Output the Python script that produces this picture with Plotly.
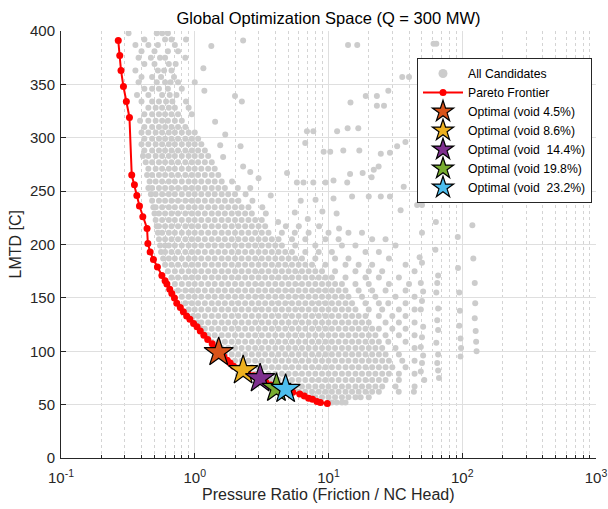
import plotly.graph_objects as go

# ---------------- data ----------------
# All candidates: main cloud, listed row by row (LMTD of the row, ratios in that row)
cand_row_lmtd = [398, 392, 387, 381, 375, 369, 363, 357, 352, 346, 340, 334, 328, 322, 316,
                 310, 305, 299, 294, 288, 283, 277, 271, 265, 259, 253, 247, 241, 235, 229,
                 223, 217, 211, 205, 199, 193, 187, 181, 175, 169, 163, 157, 151, 145, 139,
                 133, 127, 121, 115, 109, 103, 97, 91, 85, 79, 73, 67, 62, 57, 52]
cand_row_ratios = [
    [0.32, 0.52, 0.57, 0.63],
    [0.42, 0.60, 0.67, 0.86],
    [0.36, 0.45, 0.53, 0.71],
    [0.40, 0.50, 0.63, 0.75],
    [0.38, 0.47, 0.55, 0.60, 0.85],
    [0.42, 0.50, 0.64, 0.72],
    [0.36, 0.53, 0.59, 0.67],
    [0.40, 0.48, 0.56, 0.70],
    [0.38, 0.52, 0.60, 0.66, 0.75],
    [0.42, 0.48, 0.54, 0.63, 0.80],
    [0.37, 0.45, 0.57, 0.65, 0.73],
    [0.40, 0.48, 0.54, 0.61, 0.68, 0.86],
    [0.45, 0.51, 0.57, 0.64, 0.71, 0.90],
    [0.42, 0.48, 0.54, 0.60, 0.67, 0.75, 0.95],
    [0.39, 0.45, 0.51, 0.57, 0.63, 0.71, 0.80],
    [0.42, 0.48, 0.54, 0.60, 0.67, 0.75, 0.85],
    [0.40, 0.45, 0.51, 0.57, 0.64, 0.71, 0.80, 0.90, 1.0],
    [0.42, 0.48, 0.54, 0.60, 0.67, 0.75, 0.85, 0.95, 1.06],
    [0.40, 0.45, 0.51, 0.57, 0.64, 0.71, 0.80, 0.90, 1.0, 1.12],
    [0.42, 0.48, 0.54, 0.60, 0.67, 0.75, 0.85, 0.95, 1.06, 1.19],
    [0.41, 0.45, 0.51, 0.57, 0.64, 0.71, 0.80, 0.90, 1.0, 1.12, 1.26],
    [0.43, 0.48, 0.54, 0.60, 0.67, 0.75, 0.85, 0.95, 1.06, 1.19, 1.34],
    [0.45, 0.51, 0.57, 0.64, 0.71, 0.80, 0.90, 1.0, 1.12, 1.26, 1.41],
    [0.44, 0.48, 0.54, 0.60, 0.67, 0.75, 0.85, 0.95, 1.06, 1.19, 1.34, 1.5],
    [0.46, 0.51, 0.57, 0.64, 0.71, 0.80, 0.90, 1.0, 1.12, 1.26, 1.41, 1.59, 1.9],
    [0.45, 0.48, 0.54, 0.60, 0.67, 0.75, 0.85, 0.95, 1.06, 1.19, 1.34, 1.5, 1.68, 2.1, 2.6],
    [0.47, 0.51, 0.57, 0.64, 0.71, 0.80, 0.90, 1.0, 1.12, 1.26, 1.41, 1.59, 1.78, 2.0, 2.4],
    [0.48, 0.54, 0.60, 0.67, 0.75, 0.85, 0.95, 1.06, 1.19, 1.34, 1.5, 1.68, 1.89, 2.12, 2.7],
    [0.49, 0.51, 0.57, 0.64, 0.71, 0.80, 0.90, 1.0, 1.12, 1.26, 1.41, 1.59, 1.78, 2.0, 2.24, 2.52, 3.2],
    [0.50, 0.54, 0.60, 0.67, 0.75, 0.85, 0.95, 1.06, 1.19, 1.34, 1.5, 1.68, 1.89, 2.12, 2.38, 2.67, 3.4],
    [0.51, 0.57, 0.64, 0.71, 0.80, 0.90, 1.0, 1.12, 1.26, 1.41, 1.59, 1.78, 2.0, 2.24, 2.52, 2.83, 3.17],
    [0.52, 0.54, 0.60, 0.67, 0.75, 0.85, 0.95, 1.06, 1.19, 1.34, 1.5, 1.68, 1.89, 2.12, 2.38, 2.67, 3.0, 3.36, 4.8, 6.0],
    [0.53, 0.57, 0.64, 0.71, 0.80, 0.90, 1.0, 1.12, 1.26, 1.41, 1.59, 1.78, 2.0, 2.24, 2.52, 2.83, 3.17, 3.56, 4.48, 5.6, 7.1, 10.0, 14.1, 17.8],
    [0.54, 0.60, 0.67, 0.75, 0.85, 0.95, 1.06, 1.19, 1.34, 1.5, 1.68, 1.89, 2.12, 2.38, 2.67, 3.0, 3.36, 3.77, 4.23, 5.33, 6.71, 9.48, 11.9, 21.2, 26.7],
    [0.55, 0.60, 0.64, 0.71, 0.80, 0.90, 1.0, 1.12, 1.26, 1.41, 1.59, 1.78, 2.0, 2.24, 2.52, 2.83, 3.17, 3.56, 4.0, 4.48, 5.64, 7.97, 12.6, 15.9, 31.7],
    [0.56, 0.60, 0.67, 0.75, 0.85, 0.95, 1.06, 1.19, 1.34, 1.5, 1.68, 1.89, 2.12, 2.38, 2.67, 3.0, 3.36, 3.77, 4.23, 4.75, 5.33, 6.71, 8.45, 10.6, 18.9, 23.8],
    [0.58, 0.64, 0.71, 0.80, 0.90, 1.0, 1.12, 1.26, 1.41, 1.59, 1.78, 2.0, 2.24, 2.52, 2.83, 3.17, 3.56, 4.0, 4.48, 5.03, 5.64, 6.33, 7.97, 11.2, 14.1, 28.3],
    [0.60, 0.67, 0.75, 0.85, 0.95, 1.06, 1.19, 1.34, 1.5, 1.68, 1.89, 2.12, 2.38, 2.67, 3.0, 3.36, 3.77, 4.23, 4.75, 5.33, 5.98, 6.71, 7.53, 9.48, 13.4, 16.8, 21.2, 37.7],
    [0.63, 0.71, 0.80, 0.90, 1.0, 1.12, 1.26, 1.41, 1.59, 1.78, 2.0, 2.24, 2.52, 2.83, 3.17, 3.56, 4.0, 4.48, 5.03, 5.64, 6.33, 7.1, 7.97, 8.94, 11.2, 15.9, 20.0, 25.2, 44],
    [0.67, 0.75, 0.85, 0.95, 1.06, 1.19, 1.34, 1.5, 1.68, 1.89, 2.12, 2.38, 2.67, 3.0, 3.36, 3.77, 4.23, 4.75, 5.33, 5.98, 6.71, 7.53, 8.45, 9.48, 10.6, 13.4, 18.9, 23.8, 33.6],
    [0.71, 0.80, 0.90, 1.0, 1.12, 1.26, 1.41, 1.59, 1.78, 2.0, 2.24, 2.52, 2.83, 3.17, 3.56, 4.0, 4.48, 5.03, 5.64, 6.33, 7.1, 7.97, 8.94, 10.0, 11.2, 12.6, 15.9, 20.0, 28.3, 40],
    [0.75, 0.85, 0.95, 1.06, 1.19, 1.34, 1.5, 1.68, 1.89, 2.12, 2.38, 2.67, 3.0, 3.36, 3.77, 4.23, 4.75, 5.33, 5.98, 6.71, 7.53, 8.45, 9.48, 10.6, 11.9, 13.4, 16.8, 21.2, 26.7, 37.7],
    [0.80, 0.90, 1.0, 1.12, 1.26, 1.41, 1.59, 1.78, 2.0, 2.24, 2.52, 2.83, 3.17, 3.56, 4.0, 4.48, 5.03, 5.64, 6.33, 7.1, 7.97, 8.94, 10.0, 11.2, 12.6, 14.1, 17.8, 22.4, 31.7, 44],
    [0.85, 0.95, 1.06, 1.19, 1.34, 1.5, 1.68, 1.89, 2.12, 2.38, 2.67, 3.0, 3.36, 3.77, 4.23, 4.75, 5.33, 5.98, 6.71, 7.53, 8.45, 9.48, 10.6, 11.9, 13.4, 15.0, 18.9, 23.8, 28, 37.7],
    [0.9, 1.0, 1.12, 1.26, 1.41, 1.59, 1.78, 2.0, 2.24, 2.52, 2.83, 3.17, 3.56, 4.0, 4.48, 5.03, 5.64, 6.33, 7.1, 7.97, 8.94, 10.0, 11.2, 12.6, 14.1, 15.9, 20.0, 25.2, 33.6, 44],
    [0.97, 1.06, 1.19, 1.34, 1.5, 1.68, 1.89, 2.12, 2.38, 2.67, 3.0, 3.36, 3.77, 4.23, 4.75, 5.33, 5.98, 6.71, 7.53, 8.45, 9.48, 10.6, 11.9, 13.4, 15.0, 16.8, 18.9, 23.8, 30, 37.7],
    [1.05, 1.12, 1.26, 1.41, 1.59, 1.78, 2.0, 2.24, 2.52, 2.83, 3.17, 3.56, 4.0, 4.48, 5.03, 5.64, 6.33, 7.1, 7.97, 8.94, 10.0, 11.2, 12.6, 14.1, 15.9, 17.8, 20.0, 26.7, 33.6, 44],
    [1.12, 1.19, 1.34, 1.5, 1.68, 1.89, 2.12, 2.38, 2.67, 3.0, 3.36, 3.77, 4.23, 4.75, 5.33, 5.98, 6.71, 7.53, 8.45, 9.48, 10.6, 11.9, 13.4, 15.0, 16.8, 18.9, 21.2, 23.8, 30, 37.7],
    [1.22, 1.26, 1.41, 1.59, 1.78, 2.0, 2.24, 2.52, 2.83, 3.17, 3.56, 4.0, 4.48, 5.03, 5.64, 6.33, 7.1, 7.97, 8.94, 10.0, 11.2, 12.6, 14.1, 15.9, 17.8, 20.0, 22.4, 26.7, 33.6, 44],
    [1.34, 1.5, 1.68, 1.89, 2.12, 2.38, 2.67, 3.0, 3.36, 3.77, 4.23, 4.75, 5.33, 5.98, 6.71, 7.53, 8.45, 9.48, 10.6, 11.9, 13.4, 15.0, 16.8, 18.9, 21.2, 23.8, 28, 37.7],
    [1.5, 1.59, 1.78, 2.0, 2.24, 2.52, 2.83, 3.17, 3.56, 4.0, 4.48, 5.03, 5.64, 6.33, 7.1, 7.97, 8.94, 10.0, 11.2, 12.6, 14.1, 15.9, 17.8, 20.0, 22.4, 25.2, 31.7, 44],
    [1.68, 1.89, 2.12, 2.38, 2.67, 3.0, 3.36, 3.77, 4.23, 4.75, 5.33, 5.98, 6.71, 7.53, 8.45, 9.48, 10.6, 11.9, 13.4, 15.0, 16.8, 18.9, 21.2, 23.8, 26.7, 33.6],
    [2.0, 2.24, 2.52, 2.83, 3.17, 3.56, 4.0, 4.48, 5.03, 5.64, 6.33, 7.1, 7.97, 8.94, 10.0, 11.2, 12.6, 14.1, 15.9, 17.8, 20.0, 22.4, 25.2, 28.3, 35.6, 44],
    [2.2, 2.38, 2.67, 3.0, 3.36, 3.77, 4.23, 4.75, 5.33, 5.98, 6.71, 7.53, 8.45, 9.48, 10.6, 11.9, 13.4, 15.0, 16.8, 18.9, 21.2, 23.8, 26.7, 30, 37.7],
    [2.6, 2.83, 3.17, 3.56, 4.0, 4.48, 5.03, 5.64, 6.33, 7.1, 7.97, 8.94, 10.0, 11.2, 12.6, 14.1, 15.9, 17.8, 20.0, 22.4, 25.2, 28.3, 33.6, 44],
    [3.4, 3.77, 4.23, 4.75, 5.33, 5.98, 6.71, 7.53, 8.45, 9.48, 10.6, 11.9, 13.4, 15.0, 16.8, 18.9, 21.2, 23.8, 26.7, 33.6],
    [4.3, 4.48, 5.03, 5.64, 6.33, 7.1, 7.97, 8.94, 10.0, 11.2, 12.6, 14.1, 15.9, 17.8, 20.0, 22.4, 25.2, 31.7, 44],
    [5.6, 5.98, 6.71, 7.53, 8.45, 9.48, 10.6, 11.9, 13.4, 15.0, 16.8, 18.9, 21.2, 23.8, 33.5, 43.5],
    [7.5, 7.97, 8.94, 10.0, 11.2, 12.6, 14.1, 15.9, 17.4, 20.0],
    [10.6, 11.5, 12.6, 13.4],
]

# All candidates: scattered outliers (ratio, LMTD)
outlier_ratio = [2.3, 1.33, 14, 16.4, 61, 64, 1.16, 35.6, 40, 1.0, 1.18, 28, 2.0, 19, 23, 2.25, 14.6,
                 23, 26, 1.42, 13.9, 16.7, 11.6, 6.9, 7.7, 1.69, 6.7, 37.6, 32.6, 1.55, 2.2, 9.2, 10.3,
                 12.9, 17, 24.6, 28.8, 1.63, 2.3, 23.7, 18, 21.8, 2.6, 14.5, 21, 3.0, 4.9, 5.8, 6.5,
                 7.7, 9.5, 10.9, 13.8, 36.5, 3.7, 15, 20, 24.6, 28.8, 61.5, 6.2, 8.0, 10.9, 46, 50,
                 34.6, 5.6, 9.0, 11.5, 63.5, 119, 7.0, 4.2, 8.5, 12,
                 50, 48, 50, 49, 51, 50, 49, 51, 50, 49, 51, 50, 49, 52,
                 63, 66, 65, 64, 66, 65, 66, 64, 66, 65, 66, 67,
                 92.6, 93, 95, 96, 95, 97, 98, 97,
                 121, 124, 125, 124, 126, 127, 128]
outlier_lmtd = [391, 386, 387, 387, 388, 388, 365, 357, 357, 352, 344, 344, 339, 339, 339, 334, 333,
                330, 330, 315, 309, 309, 306, 306, 306, 303, 295, 296, 292, 293, 292, 287, 287,
                288, 288, 285, 286, 282, 273, 273, 267, 270, 268, 266, 263, 262, 267, 258, 258,
                258, 258, 260, 258, 254, 246, 245, 245, 245, 245, 245, 241, 242, 243, 237, 237,
                232, 230, 231, 229, 221, 218, 224, 221, 217, 215,
                211, 188, 183, 164, 156, 147, 139, 123, 113, 104, 96, 89, 81, 73,
                195, 171, 164, 155, 140, 129, 120, 108, 97, 89, 82, 75,
                207, 178, 155, 138, 124, 112, 103, 95,
                187, 164, 145, 131, 119, 109, 100]

# Pareto frontier
pareto_ratio = [0.268, 0.275, 0.281, 0.293, 0.308, 0.325, 0.338, 0.354, 0.369, 0.386, 0.409, 0.440,
                0.446, 0.464, 0.491, 0.526, 0.568, 0.600, 0.619, 0.650, 0.674, 0.705, 0.734, 0.78,
                0.822, 0.87, 0.92, 0.98, 1.04, 1.10, 1.17, 1.25, 1.35, 1.43, 1.53, 1.65, 1.75, 1.84,
                1.95, 2.10, 2.29, 2.5, 2.75, 3.1, 3.4, 3.7, 4.1, 4.5, 4.9, 5.4, 6.1, 6.6, 7.1, 7.6,
                8.2, 8.7, 9.8]
pareto_lmtd = [391, 377, 363, 348, 334, 319, 265, 256, 246, 236, 226, 215,
               201, 193, 186, 179, 171, 166, 163, 158, 154, 150, 145, 141,
               137, 133, 130, 126, 123, 119, 115, 111, 107, 103, 99, 95, 91.5, 89,
               86, 84, 82, 79, 77, 74.5, 71, 68.5, 65.5, 64, 63, 61.5, 60, 58, 56, 55,
               53, 52, 51]

# Optimal designs (one per void fraction)
opt_void = ["4.5%", "8.6%", "\u00a014.4%", "19.8%", "\u00a023.2%"]
opt_ratio = [1.51, 2.30, 3.08, 4.08, 4.78]
opt_lmtd = [99, 82, 74.5, 65.5, 64.5]
opt_colors = ["#D95319", "#EDB120", "#7E2F8E", "#77AC30", "#4DBEEE"]

# axis ticks
x_tick_vals = [0.1, 1, 10, 100, 1000]
x_tick_text = ["10<sup>-1</sup>", "10<sup>0</sup>", "10<sup>1</sup>", "10<sup>2</sup>", "10<sup>3</sup>"]
x_minor_vals = [0.2, 0.3, 0.4, 0.5, 0.6, 0.7, 0.8, 0.9,
                2, 3, 4, 5, 6, 7, 8, 9,
                20, 30, 40, 50, 60, 70, 80, 90,
                200, 300, 400, 500, 600, 700, 800, 900]

# ---------------- figure ----------------
cand_x, cand_y = [], []
for yv, row in zip(cand_row_lmtd, cand_row_ratios):
    cand_x.extend(row)
    cand_y.extend([yv] * len(row))
cand_x.extend(outlier_ratio)
cand_y.extend(outlier_lmtd)

FONT = "Liberation Sans, Arial, Helvetica, sans-serif"
AXC = "#262626"

fig = go.Figure()
fig.add_trace(go.Scatter(
    x=cand_x, y=cand_y, mode="markers", name="All Candidates", showlegend=False,
    marker=dict(color="#cccccc", size=6, line=dict(width=0)), hoverinfo="skip"))
# legend entry for the candidates (bigger legend dot as in the reference)
fig.add_trace(go.Scatter(
    x=[None], y=[None], mode="markers", name="All Candidates",
    marker=dict(color="#cccccc", size=9)))
fig.add_trace(go.Scatter(
    x=pareto_ratio, y=pareto_lmtd, mode="lines+markers", name="Pareto Frontier",
    line=dict(color="#ff0000", width=2), marker=dict(color="#ff0000", size=7)))
for v, xr, yl, c in zip(opt_void, opt_ratio, opt_lmtd, opt_colors):
    fig.add_trace(go.Scatter(
        x=[xr], y=[yl], mode="markers", name=f"Optimal (void {v})",
        marker=dict(symbol="star", size=22, color=c, line=dict(color="black", width=1.2))))

fig.update_layout(
    width=608, height=509,
    margin=dict(l=61, r=12, t=31, b=51, autoexpand=False),
    paper_bgcolor="white", plot_bgcolor="white",
    font=dict(family=FONT, color=AXC, size=14),
    title=dict(text="Global Optimization Space (Q = 300 MW)", x=0.5, xref="paper",
               xanchor="center", y=1 - 18 / 509, yref="container", yanchor="middle",
               font=dict(size=16.5, color="black")),
    showlegend=True,
    legend=dict(x=(417 - 61) / 535, y=1 - (58 - 31) / 427, xanchor="left", yanchor="top",
                bgcolor="white", bordercolor=AXC, borderwidth=1,
                font=dict(size=12.2, color="black"), itemwidth=40,
                tracegroupgap=0),
)
fig.update_xaxes(
    type="log", range=[-1, 3], tickvals=x_tick_vals, ticktext=x_tick_text, automargin=False,
    ticks="inside", ticklen=5, tickcolor=AXC, showline=True, linecolor=AXC, linewidth=1,
    showgrid=True, gridcolor="#dfdfdf", gridwidth=1, zeroline=False,
    tickfont=dict(size=15, color=AXC), ticklabelstandoff=6,
    minor=dict(tickmode="array", tickvals=x_minor_vals, ticks="inside", ticklen=3,
               tickcolor=AXC, showgrid=True, gridcolor="#d4d4d4", griddash="dot", gridwidth=1),
)
fig.update_yaxes(
    range=[0, 400], dtick=50, ticks="inside", ticklen=5, tickcolor=AXC, automargin=False,
    showline=True, linecolor=AXC, linewidth=1, showgrid=True, gridcolor="#dfdfdf",
    gridwidth=1, zeroline=False, tickfont=dict(size=15, color=AXC), ticklabelstandoff=2,
)
fig.add_annotation(text="Pressure Ratio (Friction / NC Head)", xref="paper", yref="paper",
                   x=0.5, y=(458 - 494) / 427, xanchor="center", yanchor="middle",
                   showarrow=False, font=dict(size=16, color=AXC))
fig.add_annotation(text="LMTD [C]", xref="paper", yref="paper",
                   x=(15 - 61) / 535, y=0.5, xanchor="center", yanchor="middle",
                   textangle=-90, showarrow=False, font=dict(size=16, color=AXC))

fig.write_html("out.html", config={"displayModeBar": False},
               post_script="document.body.style.margin='0px';")
